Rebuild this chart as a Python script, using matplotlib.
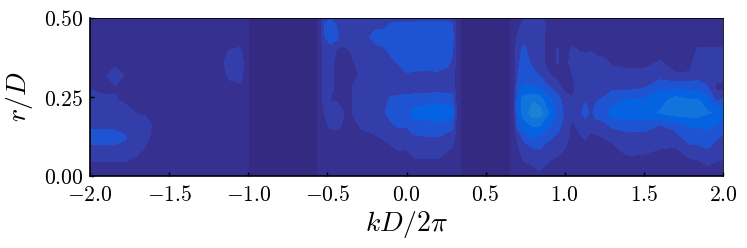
import numpy as np
import matplotlib
matplotlib.use("Agg")
import matplotlib.pyplot as plt
from matplotlib.colors import ListedColormap, BoundaryNorm

plt.rcParams["mathtext.fontset"] = "cm"
plt.rcParams["font.family"] = "serif"
plt.rcParams["font.serif"] = ["DejaVu Serif"]

r_values = [0, .04, .08, .12, .16, .20, .24, .28, .32, .36, .40, .44, .48, .50]

# one row per k, values going up in r
columns = [
    (-2.00, [1, 1.4, 2, 3, 2.3, 2.3, 2, 1.4, 1, 1, 1, 1, 1, 1]),
    (-1.90, [1, 1.4, 2, 3, 2.3, 2, 1.7, 1.2, 1.4, 1, 1, 1, 1, 1]),
    (-1.84, [1, 1.4, 2, 3, 2.2, 2, 1.6, 1.4, 2.2, 1, 1, 1, 1, 1]),
    (-1.78, [1, 1.4, 2, 2.6, 2.2, 2, 1.3, 1.2, 1.4, 1, 1, 1, 1, 1]),
    (-1.70, [1, 1, 1.8, 2, 2, 1.4, 1, 1, 1, 1, 1, 1, 1, 1]),
    (-1.65, [1, 1, 1.3, 1.8, 2.2, 1.3, 1, 1, 1, 1, 1, 1, 1, 1]),
    (-1.58, [1, 1, 1, 1, 1, 1, 1, 1, 1, 1, 1, 1, 1, 1]),
    (-1.17, [1, 1, 1, 1, 1, 1, 1, 1, 1, 1, 1, 1, 1, 1]),
    (-1.12, [1, 1, 1, 1, 1, 1, 1, 1, 1.8, 2.4, 1.5, 1, 1, 1]),
    (-1.05, [1, 1, 1, 1, 1, 1, 1, 1.2, 2, 2.4, 1.6, 1, 1, 1]),
    (-1.02, [1, 1, 1, 1, 1, 1, 1, 1, 1, 1, 1, 1, 1, 1]),
    (-1.005, [1, 1, 1, 1, 1, 1, 1, 1, 1, 1, 1, 1, 1, 1]),
    (-0.995, [0, 0, 0, 0, 0, 0, 0, 0, 0, 0, 0, 0, 0, 0]),
    (-0.57, [0, 0, 0, 0, 0, 0, 0, 0, 0, 0, 0, 0, 0, 0]),
    (-0.555, [1, 1, 1, 1, 1, 1, 1, 1, 1, 1, 1, 1, 1, 1]),
    (-0.545, [1, 1, 1, 1, 1, 1, 1, 1, 1, 1, 1, 1, 1, 1]),
    (-0.52, [1, 1, 1, 1, 1.2, 1.5, 1.8, 2, 2, 2, 2, 2.4, 2.6, 2]),
    (-0.48, [1, 1, 1, 1, 1.7, 2.2, 1.45, 2, 2, 2, 2, 3.2, 3, 2.4]),
    (-0.44, [1, 1, 1, 1, 1.7, 2.2, 1.4, 1, 1, 1, 1.4, 2.8, 2.4, 2]),
    (-0.41, [1, 1, 1, 1, 1.5, 1.7, 1, 1, 1, 1, 1.3, 2, 2, 2]),
    (-0.36, [1, 1, 1, 1, 1, 1, 1, 1, 1, 1, 1.5, 2, 2, 1.8]),
    (-0.32, [1, 1, 1, 1, 1.2, 2, 2, 2, 1.2, 1.7, 2, 2, 2, 1.8]),
    (-0.28, [1, 1, 1, 1, 1.8, 2, 2, 2, 2, 2, 2, 2, 2, 1.8]),
    (-0.24, [1, 1, 1, 1, 2, 2, 2, 2, 2, 2, 2, 2.4, 2, 1.8]),
    (-0.20, [1, 1, 1, 1.3, 2, 2, 2, 2, 2, 2, 2, 3, 2, 1.8]),
    (-0.14, [1, 1, 1, 1.6, 2, 2.4, 2.2, 2, 2, 2, 2.4, 3, 2.2, 2]),
    (-0.10, [1, 1, 1.2, 1.8, 2.3, 3, 2.7, 2, 2, 2.3, 2.7, 3, 2.6, 2]),
    (-0.05, [1, 1, 1.5, 2, 2.6, 3, 2.8, 2, 2, 2.6, 3, 3, 2.7, 2]),
    (0.00, [1, 1.2, 1.4, 2, 2.6, 3, 2.9, 2, 2.4, 3, 3, 3, 2.7, 2]),
    (0.05, [1, 1.2, 2, 2.3, 3, 4, 3, 2, 2.3, 3, 3, 3, 2.8, 2]),
    (0.10, [1, 1.2, 2, 2.4, 3, 4, 3, 2, 2.2, 3, 3, 3, 3, 2]),
    (0.20, [1, 1.2, 2, 2.4, 3.3, 4.2, 3.3, 2, 2.3, 3, 3, 3, 3, 2]),
    (0.26, [1, 1, 1.5, 2, 3, 4, 3, 2, 2, 2.8, 3, 3, 2.9, 1.9]),
    (0.29, [1, 1, 1.3, 2, 2.8, 3.8, 3, 2, 2, 2.2, 2.6, 2.8, 2.6, 1.8]),
    (0.32, [1, 1, 1, 1, 1, 1, 1, 1, 1, 1, 1, 1, 1, 1]),
    (0.335, [1, 1, 1, 1, 1, 1, 1, 1, 1, 1, 1, 1, 1, 1]),
    (0.345, [0, 0, 0, 0, 0, 0, 0, 0, 0, 0, 0, 0, 0, 0]),
    (0.655, [0, 0, 0, 0, 0, 0, 0, 0, 0, 0, 0, 0, 0, 0]),
    (0.665, [1, 1, 1, 1, 1, 1, 1, 1, 1, 1, 1, 1, 1, 1]),
    (0.68, [1, 1, 1, 1, 1, 1, 1, 1, 1, 1, 1, 1, 1, 1]),
    (0.70, [1, 1, 1.1, 1.7, 2.8, 3.6, 3.6, 2.8, 2.4, 2.2, 2.1, 1.6, 1, 1]),
    (0.74, [1, 1.4, 2, 2.7, 4, 5, 5, 3.7, 3, 3, 2.7, 2.2, 1.9, 1.4]),
    (0.80, [1, 1.6, 2.2, 3.6, 4.6, 6, 5.4, 3.6, 2.8, 2.2, 2, 2, 2, 1.7]),
    (0.84, [1.2, 2, 2.4, 3.2, 4.6, 6, 5, 3.6, 2.4, 2, 2, 2.1, 2.4, 1.7]),
    (0.90, [1, 1.4, 2, 2.6, 3.6, 4.5, 3.8, 2.6, 1.6, 1, 1, 1, 1, 1]),
    (0.955, [1, 1.2, 1.7, 2.2, 3, 3.2, 3, 2, 1, 1.6, 1.6, 1, 1, 1]),
    (1.00, [1, 1.1, 1.4, 2, 2, 2.3, 2, 1.2, 1, 1, 1, 1, 1, 1]),
    (1.05, [1, 1, 1, 1, 1.3, 2, 1.6, 1.2, 1.5, 2, 1.7, 1, 1, 1]),
    (1.09, [1, 1, 1, 1.3, 1.8, 2.2, 2, 2, 2, 2, 1.4, 1, 1, 1]),
    (1.13, [1, 1, 1, 1.6, 2, 3, 2.4, 2, 2, 2, 1.3, 1, 1, 1]),
    (1.165, [1, 1, 1, 1.1, 2, 2.2, 2, 2, 2, 2, 1.4, 1, 1, 1]),
    (1.20, [1, 1, 1, 1.3, 2, 3, 2.4, 2, 2, 2, 1, 1, 1, 1]),
    (1.25, [1, 1, 1, 1.5, 2.3, 3, 2.7, 2, 2, 1.8, 1, 1, 1, 1]),
    (1.30, [1, 1, 1.2, 1.7, 2.7, 4, 3.1, 2.3, 2, 1.3, 1, 1, 1, 1]),
    (1.40, [1, 1, 1.8, 2, 3, 4.2, 3.6, 2.2, 2, 1, 1, 1, 1, 1]),
    (1.50, [1, 1, 1.7, 2, 3, 4, 3.7, 2.4, 2, 1, 1, 1, 1, 1]),
    (1.60, [1, 1, 1.4, 2.1, 2.45, 4.6, 4, 3.3, 2, 1.6, 1, 1, 1, 1]),
    (1.70, [1, 1, 1.3, 2, 2.9, 5, 5, 3.2, 1.6, 1, 1, 1, 1, 1]),
    (1.79, [1, 1.2, 2, 3, 3.6, 5, 4.6, 3.2, 1.6, 1.2, 1, 1, 1, 1]),
    (1.84, [1, 1.3, 2, 3, 3.6, 5, 4.6, 3.2, 2, 2, 1.6, 1, 1, 1]),
    (1.90, [1, 1.6, 2.4, 3, 3.8, 4.6, 4, 2.6, 1.9, 2, 1.6, 1, 1, 1]),
    (1.96, [1, 1.4, 2, 2.6, 3.4, 4.4, 2.3, 1.2, 1.9, 2, 1.6, 1, 1, 1]),
    (2.00, [1, 1.3, 2, 2.3, 3, 4, 2.7, 1.2, 1.9, 2, 1.6, 1, 1, 1]),
]

band_colors = ["#342a82", "#363090", "#343eaa", "#1e54d2", "#0562e1", "#1074dc", "#1a82d2"]
band_levels = [-0.5, 0.5, 1.5, 2.5, 3.5, 4.5, 5.5, 6.5]

x_ticks = [-2.0, -1.5, -1.0, -0.5, 0.0, 0.5, 1.0, 1.5, 2.0]
x_labels = ["$-2.0$", "$-1.5$", "$-1.0$", "$-0.5$", "$0.0$", "$0.5$", "$1.0$", "$1.5$", "$2.0$"]
y_ticks = [0.0, 0.25, 0.5]
y_labels = ["$0.00$", "$0.25$", "$0.50$"]

k_values = np.array([c[0] for c in columns])
field = np.array([c[1] for c in columns]).T

fig = plt.figure(figsize=(7.47, 2.48), dpi=100)
ax = fig.add_axes([90 / 747, 1 - 176 / 248, 633 / 747, 158 / 248])

cmap = ListedColormap(band_colors)
norm = BoundaryNorm(band_levels, cmap.N)
ax.contourf(k_values, r_values, field, levels=band_levels, cmap=cmap, norm=norm)

ax.set_xlim(-2, 2)
ax.set_ylim(0, 0.5)
ax.set_xticks(x_ticks)
ax.set_xticklabels(x_labels, fontsize=15.5)
ax.set_yticks(y_ticks)
ax.set_yticklabels(y_labels, fontsize=15.5)
ax.tick_params(direction="in", length=3, width=1)
ax.tick_params(axis="x", pad=6)
ax.tick_params(axis="y", pad=5)
ax.set_xlabel("$kD/2\\pi$", fontsize=20, labelpad=2)
ax.set_ylabel("$r/D$", fontsize=20, labelpad=6)
for side in ["top", "right"]:
    ax.spines[side].set_linewidth(0.6)
for side in ["bottom", "left"]:
    ax.spines[side].set_linewidth(1.2)

fig.savefig("out.png", dpi=100)
